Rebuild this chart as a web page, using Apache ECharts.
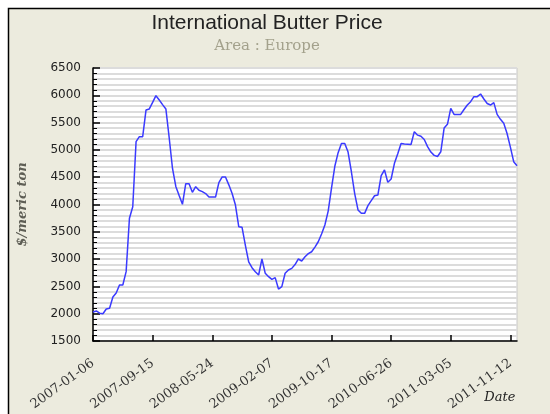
<!DOCTYPE html>
<html>
<head>
<meta charset="utf-8">
<script src="https://cdn.jsdelivr.net/npm/echarts@6/dist/echarts.min.js"></script>
<style>
  html, body { margin: 0; padding: 0; background: #fff; }
  #main { width: 550px; height: 414px; }
</style>
</head>
<body>
<div id="main"></div>
<script>
// 欧洲黄油价格 (biweekly, $/metric ton)
var startDate = '2007-01-06';
var stepDays = 14;
// one 3-week gap over the 2008/2009 new year
var gapAfter = '2008-12-20';

var prices = [
  2030, 2050, 2010, 2000, 2085, 2100, 2306, 2380, 2525, 2525,
  2770, 3747, 3960, 5150, 5242, 5242, 5730, 5750, 5870, 5993,
  5914, 5830, 5750, 5222, 4660, 4330, 4166, 4003, 4381, 4381,
  4223, 4327, 4260, 4235, 4200, 4137, 4137, 4137, 4400, 4504,
  4504, 4360, 4200, 3990, 3594, 3583, 3250, 2950, 2843, 2770,
  2709, 3002, 2740, 2678, 2630, 2660, 2452, 2495, 2740, 2800,
  2830, 2900, 3002, 2965, 3044, 3100, 3135, 3220, 3318, 3460,
  3624, 3880, 4300, 4700, 4950, 5119, 5119, 4960, 4600, 4200,
  3900, 3838, 3838, 3980, 4070, 4161, 4174, 4530, 4632, 4406,
  4467, 4754, 4930, 5119, 5110, 5105, 5100, 5334, 5270, 5250,
  5190, 5060, 4960, 4900, 4880, 4967, 5400, 5468, 5760, 5650,
  5650, 5650, 5740, 5822, 5883, 5975, 5975, 6024, 5932, 5850,
  5822, 5865, 5650, 5560, 5487, 5300, 5050, 4784, 4711
];

var yTicks = { min: 1500, max: 6500, step: 500 };

// 日期类目
function fmt(d) {
  var m = d.getUTCMonth() + 1, day = d.getUTCDate();
  return d.getUTCFullYear() + '-' + (m < 10 ? '0' + m : m) + '-' + (day < 10 ? '0' + day : day);
}
var dates = [];
var cur = new Date(startDate + 'T00:00:00Z');
for (var i = 0; i < prices.length; i++) {
  dates.push(fmt(cur));
  var add = fmt(cur) === gapAfter ? 21 : stepDays;
  cur = new Date(cur.getTime() + add * 86400000);
}

var chart = echarts.init(document.getElementById('main'));

var option = {
  backgroundColor: '#fff',
  animation: false,
  graphic: [{
    type: 'rect',
    z: -100,
    silent: true,
    shape: { x: 8.5, y: 8.5, width: 700, height: 600 },
    style: { fill: '#ECEBDE', stroke: '#000', lineWidth: 1.5 }
  }],
  title: {
    text: 'International Butter Price',
    subtext: 'Area : Europe',
    left: 262,
    textAlign: 'center',
    top: 8,
    itemGap: 5,
    textStyle: { fontFamily: 'Liberation Sans', fontSize: 21, fontWeight: 'normal', color: '#222' },
    subtextStyle: { fontFamily: 'DejaVu Serif', fontSize: 15, color: '#a3a18c' }
  },
  grid: {
    left: 93, right: 33, top: 68, bottom: 73,
    show: true,
    backgroundColor: '#fff',
    borderColor: '#c8c8c8',
    borderWidth: 1
  },
  xAxis: {
    type: 'category',
    data: dates,
    boundaryGap: false,
    name: 'Date',
    nameLocation: 'end',
    nameGap: -36,
    nameTextStyle: {
      fontFamily: 'DejaVu Serif', fontStyle: 'italic', fontSize: 13, color: '#222',
      verticalAlign: 'top', padding: [50, 0, 0, 0]
    },
    axisLine: { lineStyle: { color: '#000', width: 1.5 } },
    axisTick: { inside: true, length: 6, interval: 17, lineStyle: { color: '#000', width: 1.5 } },
    axisLabel: {
      interval: 17, rotate: 36, margin: 21,
      fontFamily: 'DejaVu Serif', fontSize: 13, color: '#333'
    },
    splitLine: { show: false }
  },
  yAxis: {
    type: 'value',
    min: yTicks.min,
    max: yTicks.max,
    interval: yTicks.step,
    name: '$/meric ton',
    nameLocation: 'middle',
    nameGap: 64,
    nameTextStyle: { fontFamily: 'DejaVu Serif', fontStyle: 'italic', fontWeight: 'bold', fontSize: 13, color: '#5e5e55' },
    axisLine: { show: true, lineStyle: { color: '#000', width: 1.5 } },
    axisTick: { show: true, inside: true, length: 7, lineStyle: { color: '#000', width: 1.5 } },
    minorTick: { show: true, splitNumber: 5, length: 4, lineStyle: { color: '#000', width: 1 } },
    axisLabel: {
      margin: 12, fontFamily: 'DejaVu Sans', fontSize: 12, color: '#222',
      formatter: function (v) { return String(v); }
    },
    splitLine: { show: true, lineStyle: { color: '#dcdcdc', width: 2 } },
    minorSplitLine: { show: true, lineStyle: { color: '#dcdcdc', width: 2 } }
  },
  series: [{
    name: 'Butter',
    type: 'line',
    data: prices,
    showSymbol: false,
    symbol: 'none',
    lineStyle: { color: '#3a3aff', width: 1.5 }
  }]
};

chart.setOption(option);
</script>
</body>
</html>
